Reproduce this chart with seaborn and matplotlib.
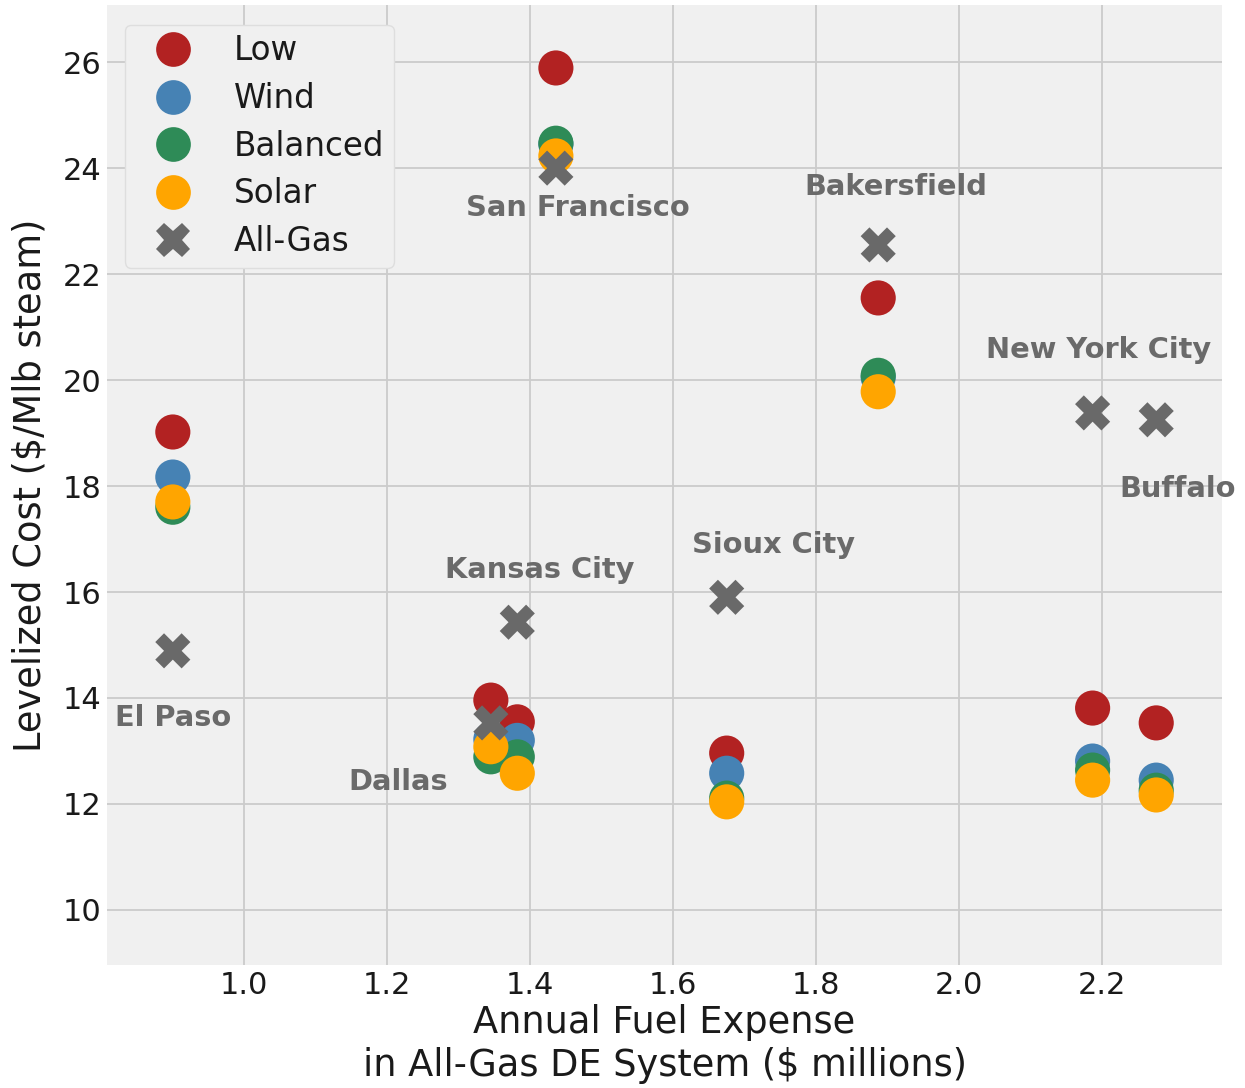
import matplotlib
matplotlib.use("Agg")
import matplotlib.pyplot as plt
from matplotlib.lines import Line2D
import seaborn as sns
import pandas as pd

cities = ["El Paso", "Dallas", "Kansas City", "San Francisco",
          "Sioux City", "Bakersfield", "New York City", "Buffalo"]
fuel_expense = [0.90, 1.345, 1.382, 1.436, 1.675, 1.887, 2.187, 2.276]

low = [19.02, 13.96, 13.55, 25.89, 12.96, 21.55, 13.81, 13.53]
wind = [18.17, 13.22, 13.20, 24.45, 12.58, 20.05, 12.81, 12.45]
balanced = [17.60, 12.89, 12.89, 24.47, 12.11, 20.09, 12.64, 12.26]
solar = [17.70, 13.08, 12.58, 24.23, 12.04, 19.78, 12.45, 12.17]
all_gas = [14.89, 13.53, 15.43, 24.00, 15.90, 22.55, 19.38, 19.25]

scenarios = ["Low", "Wind", "Balanced", "Solar", "All-Gas"]
series = [low, wind, balanced, solar, all_gas]
colors = {"Low": "#b22222", "Wind": "#4682b4", "Balanced": "#2e8b57",
          "Solar": "#ffa500", "All-Gas": "#696969"}
markers = {"Low": "o", "Wind": "o", "Balanced": "o", "Solar": "o", "All-Gas": "X"}

# where the city names sit
label_pos = {
    "El Paso": (0.900, 13.62),
    "Dallas": (1.215, 12.42),
    "Kansas City": (1.414, 16.42),
    "San Francisco": (1.467, 23.25),
    "Sioux City": (1.740, 16.89),
    "Bakersfield": (1.912, 23.64),
    "New York City": (2.196, 20.57),
    "Buffalo": (2.306, 17.94),
}

rows = []
for name, vals in zip(scenarios, series):
    for c, x, y in zip(cities, fuel_expense, vals):
        rows.append({"city": c, "expense": x, "cost": y, "scenario": name})
df = pd.DataFrame(rows)

sns.set_theme(style="whitegrid", rc={
    "axes.facecolor": "#f0f0f0",
    "figure.facecolor": "white",
    "grid.color": "#cbcbcb",
    "grid.linewidth": 1.3,
    "axes.edgecolor": "#f0f0f0",
    "text.color": "#1a1a1a",
    "axes.labelcolor": "#1a1a1a",
    "xtick.color": "#1a1a1a",
    "ytick.color": "#1a1a1a",
})
plt.rcParams["font.family"] = ["DejaVu Sans"]

fig, ax = plt.subplots(figsize=(12.45, 10.88), dpi=100)
fig.subplots_adjust(left=0.086, right=0.9815, top=0.995, bottom=0.113)

sns.scatterplot(data=df, x="expense", y="cost", hue="scenario", style="scenario",
                hue_order=scenarios, style_order=scenarios, palette=colors,
                markers=markers, s=640, linewidth=0, ax=ax, legend=False, zorder=3)

for c in cities:
    x, y = label_pos[c]
    ax.text(x, y, c, ha="center", va="center", fontsize=20.8, fontweight="bold",
            color="#6a6a6a", zorder=4, clip_on=False)

ax.set_xlim(0.808, 2.368)
ax.set_ylim(8.96, 27.07)
ax.set_xticks([1.0, 1.2, 1.4, 1.6, 1.8, 2.0, 2.2])
ax.set_yticks(range(10, 27, 2))
ax.tick_params(axis="both", labelsize=22, length=0, pad=4)
for s in ax.spines.values():
    s.set_visible(False)

ax.set_xlabel("Annual Fuel Expense\nin All-Gas DE System (\\$ millions)", fontsize=26.5,
              labelpad=3, linespacing=1.2)
ax.set_ylabel("Levelized Cost (\\$/Mlb steam)", fontsize=26.5, labelpad=10)

handles = [Line2D([], [], linestyle="none", marker=markers[n], color=colors[n],
                  markersize=25, markeredgewidth=0) for n in scenarios]
leg = ax.legend(handles, scenarios, loc="upper left", fontsize=23.5, frameon=True,
                borderpad=0.3, labelspacing=0.45, handlelength=2.37, handletextpad=0.66,
                borderaxespad=0, bbox_to_anchor=(0.016, 0.98), fancybox=True)
leg.get_frame().set_facecolor("#f0f0f0")
leg.get_frame().set_edgecolor("#dedede")
leg.get_frame().set_alpha(1)

fig.savefig("out.png", dpi=100)
